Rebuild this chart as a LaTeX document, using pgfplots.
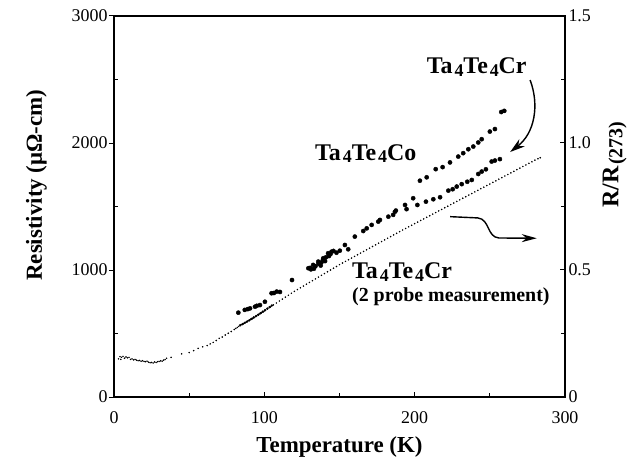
\documentclass[border=0pt]{standalone}
\usepackage{fontspec}
\setmainfont{Liberation Serif}
\usepackage{pgfplots}
\pgfplotsset{compat=1.18}
\usetikzlibrary{arrows.meta}

\newcommand{\lblfont}{\bfseries\fontsize{23}{25}\selectfont}
\newcommand{\cmpfont}{\bfseries\fontsize{24}{26}\selectfont}
\newcommand{\tickfont}{\fontsize{18}{20}\selectfont}
\newcommand{\sub}[1]{\kern0.08em\raisebox{-0.25ex}{\fontsize{18}{20}\selectfont #1}}
\newcommand{\Cr}{Ta\sub{4}Te\sub{4}Cr}
\newcommand{\Co}{Ta\sub{4}Te\sub{4}Co}

\begin{document}
\begin{tikzpicture}
\useasboundingbox (-114bp,-68bp) rectangle (518bp,397bp);
\begin{axis}[
    at={(0,0)}, anchor=south west,
    scale only axis, width=451bp, height=381bp,
    xmin=0, xmax=300, ymin=0, ymax=3000,
    xtick={0,100,200,300}, minor xtick={50,150,250},
    ytick={0,1000,2000,3000}, minor ytick={500,1500,2500},
    xtick pos=bottom, ytick pos=left,
    tick align=inside,
    major tick length=5bp, minor tick length=4bp,
    every tick/.style={black, line width=1bp},
    major y tick style={xshift=-5bp},
    axis line style={line width=1.2bp},
    tick label style={font=\tickfont},
    xticklabel style={yshift=-11bp},
    yticklabel style={xshift=-3bp},
    /pgf/number format/assume math mode=true,
    /pgf/number format/1000 sep={},
    xlabel={Temperature (K)},
    ylabel={Resistivity (μΩ-cm)},
    xlabel style={font=\lblfont, at={(axis description cs:0.5,-0.13)}, anchor=center},
    ylabel style={font=\lblfont, at={(axis description cs:-0.172,0.556)}, anchor=center},
    clip=false,
]
% Ta4Te4Cr, 2 probe (fine dots)
\addplot[only marks, mark=*, mark size=0.55bp, black] coordinates {
(3,300) (4,318) (4.5,296) (5,312) (6,320) (7,305) (8,315) (9,308) (10,312)
(11,296) (12,300) (13,292) (14,296) (15,290) (16,286) (17,288) (18,282)
(19,286) (20,280) (21,278) (22,282) (23,274) (24,270) (25,272) (26,268)
(27,276) (28,272) (29,278) (30,280) (31,285) (32,282) (33,290) (34,295)
(35,305) (38,312) (45,340) (50,350) (53,365) (56,383) (59,395) (62,405)
(64,418) (66,430) (68,445) (70,462) (72,472) (74,488) (76,502) (78,516)
(80,532) (81,540) (82,548) (83,556) (84,562) (85,570) (86,577) (87,584)
(88,591) (89,598) (90,605) (91,612) (92,619) (93,626) (94,633) (95,640)
(96,648) (97,655) (98,663) (99,670) (100,678) (102,693) (104,709) (106,725)
(108,740) (110,756) (112,771) (114,786) (116,801) (118,817) (120,832)
(122,846) (124,860) (126,874) (128,888) (130,902) (132,916) (134,930)
(136,944) (138,958) (140,972) (142,986) (144,1000) (146,1014) (148,1028)
(150,1042) (152,1055) (154,1068) (156,1081) (158,1094) (160,1107) (162,1120)
(164,1133) (166,1146) (168,1159) (170,1172) (172,1185) (174,1198) (176,1211)
(178,1224) (180,1237) (182,1250) (184,1263) (186,1276) (188,1289) (190,1302)
(192,1315) (194,1327) (196,1340) (198,1352) (200,1365) (202,1377) (204,1390)
(206,1402) (208,1415) (210,1427) (212,1440) (214,1452) (216,1465) (218,1477)
(220,1490) (222,1502) (224,1515) (226,1527) (228,1540) (230,1552) (232,1565)
(234,1577) (236,1590) (238,1602) (240,1615) (242,1627) (244,1640) (246,1652)
(248,1665) (250,1677) (252,1690) (254,1702) (256,1715) (258,1727) (260,1740)
(262,1752) (264,1765) (266,1777) (268,1790) (270,1802) (272,1815) (274,1827)
(276,1840) (278,1852) (280,1865) (282,1876) (283.5,1884)
};
% Ta4Te4Cr, 4 probe at low T (on top of the 2 probe curve)
\addplot[only marks, mark=*, mark size=1.05bp, black] coordinates {
(84,566) (85.5,574) (87,584) (88.5,594) (90,604) (91.5,615) (93,626)
(94.5,637) (96,648) (97.5,660) (99,672) (100.5,684) (102,696) (103.5,708) (105,720)
};
% Ta4Te4Co and Ta4Te4Cr (4 probe), where they overlap
\addplot[only marks, mark=*, mark size=2.1bp, black] coordinates {
(82.7,664) (87,686) (89,692) (90.5,698) (93.8,711) (95,718) (97.1,724)
(100.4,750) (104.8,817) (106.4,819) (108.2,830) (110.4,827) (118.4,921)
(129.3,1014) (130.5,1017) (131,1005) (132.5,1040) (133,1010) (134,1030)
(135.9,1066) (136,1050) (137.5,1035) (138,1060) (139,1080) (139.2,1093)
(140.4,1070) (141,1100) (142.4,1132) (143,1110) (144,1125) (144.7,1144)
(146,1150) (148,1136) (150.2,1152) (153.6,1197) (155.8,1163) (160.2,1263)
(165.8,1307) (168.1,1328) (171.4,1355) (175.8,1381) (176.9,1394)
(182.5,1420) (185.7,1434) (186.9,1459) (187.5,1468)
};
% Ta4Te4Co
\addplot[only marks, mark=*, mark size=2.1bp, black] coordinates {
(193.6,1512) (199,1565) (203.5,1703) (208,1730) (214,1794) (218.6,1810)
(223.5,1847) (229,1893) (232.3,1920) (235.7,1951) (239,1972) (242.3,2004)
(244.6,2030) (250,2090) (253.4,2110) (257.6,2244) (259.6,2253)
};
% Ta4Te4Cr (4 probe)
\addplot[only marks, mark=*, mark size=2.1bp, black] coordinates {
(194.6,1479) (201.8,1512) (207.5,1538) (212.4,1557) (216.9,1573)
(222.4,1625) (225.3,1636) (228,1657) (231.3,1676) (235,1695) (238,1709)
(242.3,1756) (244.6,1775) (247.4,1793) (251.2,1854) (253.4,1862) (256.7,1873)
};
\node[anchor=base west, font=\cmpfont, inner sep=0pt] at (axis cs:208,2549) {\Cr};
\node[anchor=base west, font=\cmpfont, inner sep=0pt] at (axis cs:133.7,1866) {\Co};
\node[anchor=base west, font=\cmpfont, inner sep=0pt] at (axis cs:158.3,930) {\Cr};
\node[anchor=base west, font=\bfseries\fontsize{20}{22}\selectfont, inner sep=0pt] at (axis cs:158.3,752) {(2 probe measurement)};
\draw[line width=1.4bp, -{Stealth[length=15bp,width=9bp]}]
    (axis cs:276.8,2496) .. controls (axis cs:283,2300) and (axis cs:280,2080) .. (axis cs:263.5,1929);
\draw[line width=1.4bp, -{Stealth[length=15bp,width=8bp]}]
    (axis cs:223.6,1420) -- (axis cs:242,1410) .. controls (axis cs:250,1400) and (axis cs:248,1260) .. (axis cs:256,1252) -- (axis cs:281.2,1250);
\end{axis}
\begin{axis}[
    at={(0,0)}, anchor=south west,
    scale only axis, width=451bp, height=381bp,
    xmin=0, xmax=300, ymin=0, ymax=1.5,
    axis x line=none, axis y line*=right,
    ytick={0,0.5,1,1.5}, yticklabels={0,0.5,1.0,1.5},
    minor ytick={0.25,0.75,1.25},
    tick align=inside,
    major tick length=5bp, minor tick length=4bp,
    every tick/.style={black, line width=1bp},
    axis line style={line width=1.2bp},
    tick label style={font=\tickfont},
    ylabel={R/R\kern0.05em\raisebox{-0.35ex}{\fontsize{20}{22}\selectfont(273)}},
    ylabel style={font=\cmpfont, at={(axis description cs:1.11,0.61)}, anchor=center},
]
\end{axis}
\end{tikzpicture}
\end{document}
